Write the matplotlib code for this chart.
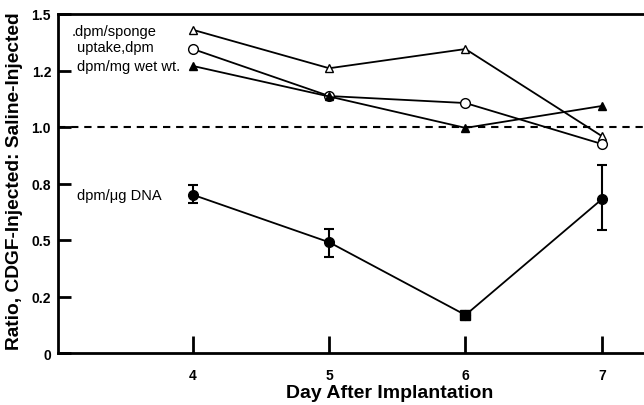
import matplotlib
matplotlib.use("Agg")
import matplotlib.pyplot as plt
from matplotlib.ticker import FixedLocator

days = [4, 5, 6, 7]
per_sponge = [1.43, 1.26, 1.345, 0.96]
uptake = [1.345, 1.137, 1.106, 0.925]
per_mg = [1.27, 1.135, 0.996, 1.093]
per_dna = [0.70, 0.49, 0.168, 0.68]
dna_err_lo = [0.036, 0.065, 0.0, 0.136]
dna_err_hi = [0.043, 0.059, 0.0, 0.15]

ytick_pos = [0, 0.25, 0.5, 0.75, 1.0, 1.25, 1.5]
ytick_lab = ["0", "0.2", "0.5", "0.8", "1.0", "1.2", "1.5"]
xtick_pos = [4, 5, 6, 7]

plt.rcParams['font.family'] = ['Liberation Sans', 'DejaVu Sans']

fig = plt.figure(figsize=(6.44, 4.06), dpi=100)
ax = fig.add_axes([58/644, 1-354/406, 1-58/644, (354-15)/406])
ax.set_xlim(3.01, 7.31)
ax.set_ylim(0, 1.5)

ax.axhline(1.0, color='black', lw=1.5, ls=(0, (3.5, 2.8)), zorder=1)

lkw = dict(color='black', lw=1.3, zorder=3)
ax.plot(days, per_sponge, marker='^', ms=6, mfc='white', mec='black', mew=1.0, **lkw)
ax.plot(days, uptake, marker='o', ms=7, mfc='white', mec='black', mew=1.0, **lkw)
ax.plot(days, per_mg, marker='^', ms=6, mfc='black', mec='black', **lkw)
ax.errorbar(days, per_dna, yerr=[dna_err_lo, dna_err_hi], marker='o', ms=7,
            mfc='black', mec='black', color='black', lw=1.3, elinewidth=1.5,
            capsize=3.5, capthick=1.5, zorder=3)
ax.plot([days[2]], [per_dna[2]], marker='s', ms=7, color='black', ls='none', zorder=4)

tkw = dict(fontsize=10.5, va='center', ha='left')
ax.text(3.11, 1.425, ".dpm/sponge", **tkw)
ax.text(3.15, 1.352, "uptake,dpm", **tkw)
ax.text(3.15, 1.27, "dpm/mg wet wt.", **tkw)
ax.text(3.15, 0.70, "dpm/\u03bcg DNA", **tkw)

ax.yaxis.set_major_locator(FixedLocator(ytick_pos))
ax.set_yticklabels(ytick_lab, fontweight='bold', fontsize=10)
ax.xaxis.set_major_locator(FixedLocator(xtick_pos))
ax.set_xticklabels([str(d) for d in xtick_pos], fontweight='bold', fontsize=10)
ax.tick_params(axis='y', direction='in', length=9, width=2, pad=5)
ax.tick_params(axis='x', direction='in', length=12, width=2, pad=11)

for s in ['left', 'bottom', 'top']:
    ax.spines[s].set_linewidth(2)
ax.spines['right'].set_visible(False)

ax.set_xlabel("Day After Implantation", fontweight='bold', fontsize=14, va='center')
ax.set_ylabel("Ratio, CDGF-Injected: Saline-Injected", fontweight='bold', fontsize=13.8, va='center')
ax.xaxis.set_label_coords((390-58)/586, (354-393)/339)
ax.yaxis.set_label_coords((15-58)/586, (354-181)/339)

fig.savefig("out.png", dpi=100)
